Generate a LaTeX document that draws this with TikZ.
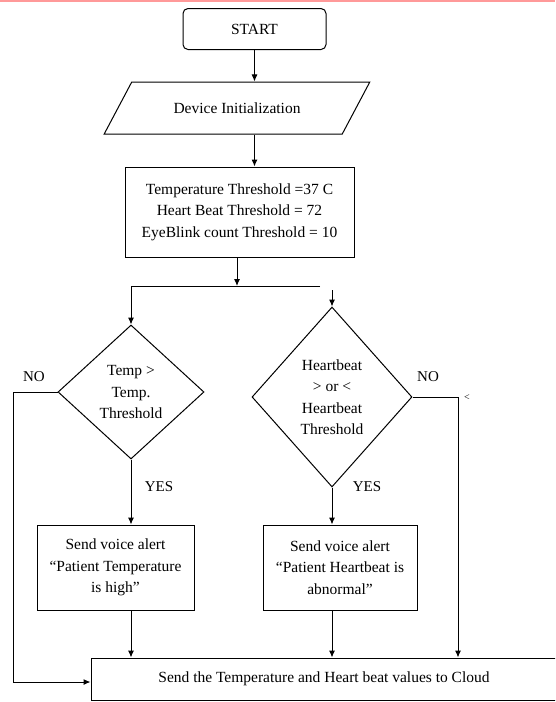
\documentclass[tikz,border=0pt]{standalone}
\usepackage{fontspec}
\setmainfont{Liberation Serif}
\usetikzlibrary{shapes.geometric,arrows.meta}
\begin{document}
\begin{tikzpicture}[x=1pt,y=-1pt,>={Latex[length=7pt,width=6pt]},line width=1pt]
\tikzstyle{every node} = [font=\fontsize{15.5}{21.5}\selectfont, align=center, inner sep=2pt]
\tikzstyle{box} = [draw, rectangle, minimum height=85pt]
\tikzstyle{dec} = [draw, diamond, inner sep=0pt]
\tikzstyle{lbl} = [font=\fontsize{15}{16}\selectfont]
\useasboundingbox (0,0) rectangle (555,702);
\clip (0,0) rectangle (555,702);
\draw [line width=2.5pt, draw=red!40] (0,1) -- (555,1);

\node [box, rounded corners=5pt, minimum width=143pt, minimum height=41pt] (st) at (254.5, 29) {START};
\node [draw, trapezium, trapezium left angle=41, trapezium right angle=139, trapezium stretches=true, minimum width=266pt, minimum height=52pt] (ini) at (237, 108) {Device Initialization};
\node [box, minimum width=229pt, minimum height=90pt] (th) at (239.5, 212) {Temperature Threshold =37 C\\Heart Beat Threshold = 72\\EyeBlink count Threshold = 10};
\node [dec, minimum width=146pt, minimum height=134pt] (dt) at (131, 392) {Temp >\\Temp.\\Threshold};
\node [dec, minimum width=160pt, minimum height=180pt] (dh) at (332, 397) {Heartbeat\\> or <\\Heartbeat\\Threshold};
\node [box, minimum width=157pt] (vt) at (115.5, 567.5) {Send voice alert\\“Patient Temperature\\is high”};
\node [box, minimum width=154pt] (vh) at (340, 567.5) {Send voice alert\\“Patient Heartbeat is\\abnormal”};
\node [box, minimum width=466pt, minimum height=42pt] (cl) at (324, 679) {Send the Temperature and Heart beat values to Cloud};

\node [lbl] (no1) at (34, 377) {NO};
\node [lbl] (no2) at (428, 377) {NO};
\node [lbl] (yes1) at (159, 487) {YES};
\node [lbl] (yes2) at (367, 487) {YES};
\node [lbl, font=\fontsize{10}{10}\selectfont] (lt) at (467, 398) {<};

\coordinate (j) at (237, 286);
\coordinate (jl) at (131, 286);
\coordinate (jr) at (320, 286);
\coordinate (hr) at (332, 290);
\coordinate (nl) at (13, 682);
\coordinate (nr) at (458, 397);

\draw [->] (st) -- (st |- ini.north);
\draw [->] (st |- ini.south) -- (st |- th.north);
\draw [->] (j |- th.south) -- (j);
\draw [-] (jr) -- (jl);
\draw [->] (jl) -- (dt.north);
\draw [->] (hr) -- (dh.north);
\draw [->] (dt.west) -| (nl) -- (nl -| cl.west);
\draw [->] (dh.east) -- (nr) -- (nr |- cl.north);
\draw [->] (dt.south) -- (dt.south |- vt.north);
\draw [->] (dt.south |- vt.south) -- (dt.south |- cl.north);
\draw [->] (dh.south) -- (dh.south |- vh.north);
\draw [->] (dh.south |- vh.south) -- (dh.south |- cl.north);

\end{tikzpicture}
\end{document}
